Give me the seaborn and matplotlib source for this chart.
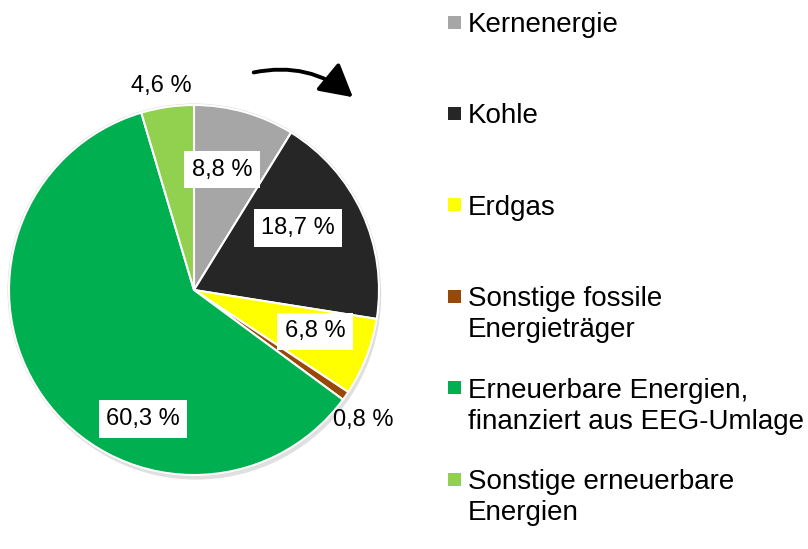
import matplotlib
matplotlib.use("Agg")
import matplotlib.pyplot as plt
from matplotlib.patches import Rectangle, FancyArrowPatch, Circle
import seaborn as sns

# ---- data ----
categories = ["Kernenergie", "Kohle", "Erdgas", "Sonstige fossile\nEnergieträger",
              "Erneuerbare Energien,\nfinanziert aus EEG-Umlage",
              "Sonstige erneuerbare\nEnergien"]
values = [8.8, 18.7, 6.8, 0.8, 60.3, 4.6]
value_labels = ["8,8 %", "18,7 %", "6,8 %", "0,8 %", "60,3 %", "4,6 %"]
colors = ["#A6A6A6", "#262626", "#FFFF00", "#984807", "#00B050", "#92D050"]

# ---- layout (label positions in pie-radius units, boxed or not) ----
label_xy = [(0.151, 0.649), (0.562, 0.335), (0.654, -0.222),
            (0.914, -0.703), (-0.276, -0.697), (-0.178, 1.103)]
label_boxed = [True, True, True, False, True, False]

sns.set_theme(style="white")
plt.rcParams["font.family"] = ["Liberation Sans", "DejaVu Sans"]

W, H = 808, 549
fig = plt.figure(figsize=(W / 100, H / 100), dpi=100)
fig.patch.set_facecolor("white")

cx, cy, r = 194, 290, 185
ax = fig.add_axes([(cx - r) / W, (H - cy - r) / H, 2 * r / W, 2 * r / H])
ax.set_axis_off()

palette = sns.color_palette(colors)

# soft shadow and thin outer rim
sh = Circle((0.012, -0.025), 1.0, facecolor="#000000", alpha=0.12,
            edgecolor="none", zorder=0)
ax.add_patch(sh)
sh.set_clip_on(False)
rim = Circle((0.0, 0.0), 1.008, facecolor="#D9D9D9", edgecolor="none", zorder=0.5)
ax.add_patch(rim)
rim.set_clip_on(False)

wedges, _ = ax.pie(values, colors=palette, startangle=90, counterclock=False,
                   radius=1.0, wedgeprops=dict(edgecolor="white", linewidth=1.5),
                   frame=False)
for w in wedges:
    w.set_zorder(1)
    w.set_clip_on(False)
ax.set_xlim(-1, 1)
ax.set_ylim(-1, 1)
ax.set_aspect("equal")

for (lx, ly), txt, boxed in zip(label_xy, value_labels, label_boxed):
    kw = dict(ha="center", va="center", fontsize=17, color="black", zorder=5)
    if boxed:
        kw["bbox"] = dict(boxstyle="square,pad=0.32", facecolor="white", edgecolor="none")
    ax.text(lx, ly, txt, **kw)

# ---- legend (manual, marker aligned with first line) ----
leg_x_marker = 454.5
leg_x_text = 468
leg_y0 = 22
leg_dy = 91.4
line_dy = 31
msize = 13
for i, (cat, col) in enumerate(zip(categories, palette)):
    yc = leg_y0 + i * leg_dy
    fig.patches.append(Rectangle(((leg_x_marker - msize / 2) / W, (H - yc - msize / 2) / H),
                                 msize / W, msize / H, transform=fig.transFigure,
                                 facecolor=col, edgecolor="none"))
    for j, line in enumerate(cat.split("\n")):
        fig.text(leg_x_text / W, (H - yc - 10 - j * line_dy) / H, line, fontsize=20,
                 color="black", ha="left", va="baseline")

# ---- arrow ----
arr = FancyArrowPatch(posA=(251 / W, (H - 73) / H), posB=(355 / W, (H - 99) / H),
                      transform=fig.transFigure, connectionstyle="arc3,rad=-0.25",
                      arrowstyle="-|>,head_length=9,head_width=5", mutation_scale=2.2,
                      color="black", linewidth=2.8)
fig.patches.append(arr)

fig.savefig("out.png", dpi=100, facecolor="white")
